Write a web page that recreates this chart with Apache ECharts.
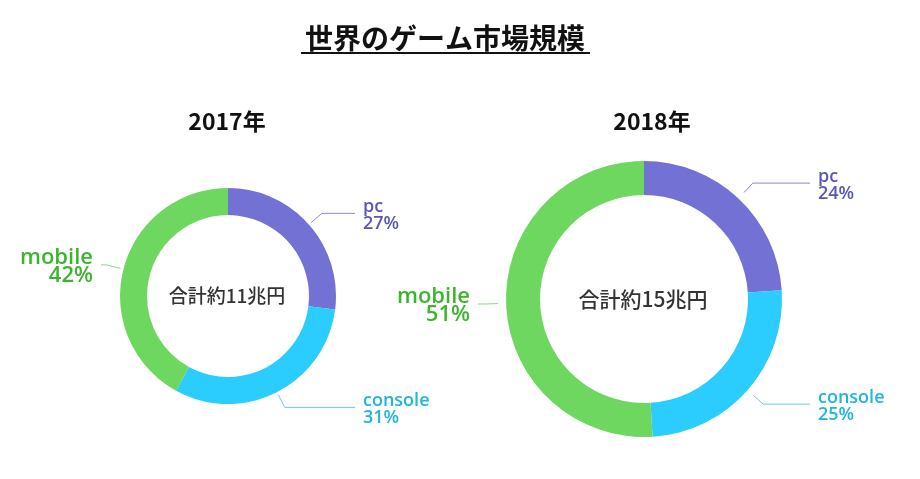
<!DOCTYPE html>
<html><head><meta charset="utf-8">
<script src="https://cdn.jsdelivr.net/npm/echarts@6/dist/echarts.min.js"></script>
<style>html,body{margin:0;padding:0;background:#fff}#c{width:920px;height:479px}</style>
</head><body><div id="c"></div>
<script>
// ---- data ----
const categories = ['pc', 'console', 'mobile'];
const share2017 = [27, 31, 42];
const share2018 = [24, 25, 51];
const years = ['2017年', '2018年'];
const totals = ['合計約11兆円', '合計約15兆円'];
const mainTitle = '世界のゲーム市場規模';

// ---- styles ----
const sliceColors = {pc: '#7371d3', console: '#2acdfd', mobile: '#6dd75f'};
const textColors = {pc: '#5a55b8', console: '#1fb5e0', mobile: '#3cb52e'};
const lineColors = {pc: '#8c8ac4', console: '#6cc8e6', mobile: '#8fd486'};
const labelSize = {pc: 18, console: 18, mobile: 22};
const labelLH = {pc: 17, console: 17, mobile: 18};
const LATIN = '"Open Sans", "Noto Sans CJK JP", sans-serif';
const CJK = '"Noto Sans CJK JP", sans-serif';

const pies = [
  {center: [228, 296], radius: [81, 108], reach: 127, gap: 3, seg: 14, values: share2017, centerSize: 19, titleX: 227},
  {center: [644, 299], radius: [104, 138], reach: 166, gap: 8, seg: 13, values: share2018, centerSize: 21, titleX: 652}
];

function makeLayout(p) {
  return function (params) {
    const pts = params.labelLinePoints;
    if (!pts) return {};
    const a = pts[0], b = pts[1];
    let dx = b[0] - a[0], dy = b[1] - a[1];
    const len = Math.hypot(dx, dy) || 1;
    dx /= len; dy /= len;
    const side = dx >= 0 ? 1 : -1;
    const endX = p.center[0] + side * p.reach;
    const s = [a[0] + dx * p.gap, a[1] + dy * p.gap];
    let m = [s[0] + dx * p.seg, s[1] + dy * p.seg];
    if (side * (m[0] - endX) > 0) m = [endX, m[1]];
    const e = [endX, m[1]];
    return {
      x: endX + side * 8,
      y: m[1] + 2,
      align: side > 0 ? 'left' : 'right',
      verticalAlign: 'middle',
      labelLinePoints: [s, m, e]
    };
  };
}

const rich = {};
categories.forEach(c => {
  rich[c] = {color: textColors[c], fontSize: labelSize[c], lineHeight: labelLH[c], fontFamily: LATIN, fontWeight: 600};
});

const series = pies.map(p => ({
  type: 'pie',
  center: p.center,
  radius: p.radius,
  startAngle: 90,
  clockwise: true,
  silent: true,
  animation: false,
  avoidLabelOverlap: false,
  color: categories.map(c => sliceColors[c]),
  data: categories.map((c, i) => ({
    name: c, value: p.values[i],
    labelLine: {lineStyle: {color: lineColors[c], width: 1}}
  })),
  label: {
    show: true,
    position: 'outside',
    formatter: d => `{${d.name}|${d.name}}\n{${d.name}|${d.value}%}`,
    rich: rich
  },
  labelLine: {show: true, length: 15, length2: 30, smooth: false},
  labelLayout: makeLayout(p),
  emphasis: {disabled: true}
}));

const graphics = [
  {type: 'text', x: 445, y: 38, style: {text: mainTitle, fill: '#111', font: 'bold 28px ' + CJK, align: 'center', verticalAlign: 'middle'}},
  {type: 'line', shape: {x1: 301, y1: 53, x2: 590, y2: 53}, style: {stroke: '#111', lineWidth: 2}}
];
pies.forEach((p, i) => {
  graphics.push({type: 'text', x: p.titleX, y: 121, style: {text: years[i], fill: '#111', font: 'bold 23px ' + CJK, align: 'center', verticalAlign: 'middle'}});
  graphics.push({type: 'text', x: p.center[0] - 1, y: p.center[1], style: {text: totals[i], fill: '#333', font: '500 ' + p.centerSize + 'px ' + CJK, align: 'center', verticalAlign: 'middle'}});
});

const chart = echarts.init(document.getElementById('c'));
chart.setOption({
  backgroundColor: '#fff',
  animation: false,
  series: series,
  graphic: graphics
});
</script>
</body></html>
